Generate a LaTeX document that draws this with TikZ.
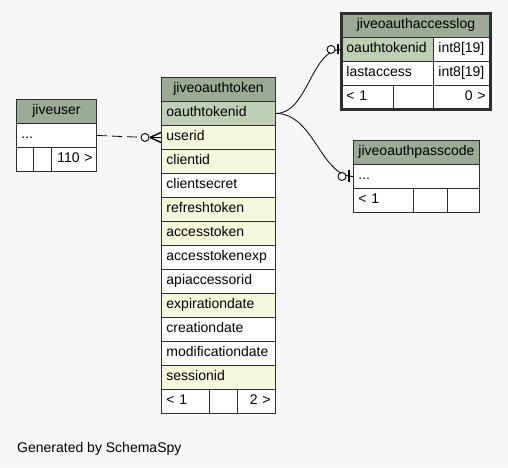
\documentclass[tikz,border=0pt]{standalone}
\usepackage{fontspec}
\setmainfont{Liberation Sans}
\usetikzlibrary{calc}

\definecolor{bggray}{HTML}{F7F7F7}
\definecolor{headgreen}{HTML}{9BAB96}
\definecolor{keygreen}{HTML}{BFCFB6}
\definecolor{idxyellow}{HTML}{F5F8DC}
\definecolor{linegray}{HTML}{2E2E2E}

\newcommand{\tabfont}{\fontsize{14}{16}\selectfont}

\tikzset{
    cell/.style={draw=linegray, line width=0.9pt, anchor=north west,
        inner xsep=5pt, inner ysep=0pt, minimum height=24pt,
        text height=10pt, text depth=3pt, font=\tabfont, align=left},
    head/.style={cell, fill=headgreen, align=center},
    keyrow/.style={cell, fill=keygreen},
    idxrow/.style={cell, fill=idxyellow},
    plainrow/.style={cell, fill=white},
    footcell/.style={cell, fill=white},
    relline/.style={black, line width=0.8pt},
    endring/.style={draw=black, fill=white, line width=0.9pt}
}

\begin{document}
\begin{tikzpicture}[x=1pt,y=-1pt]

        \fill[bggray] (0,0) rectangle (508,467);
        \useasboundingbox (0,0) rectangle (508,467);

        %jiveuser
        \node[head, text width=70pt] (ju-head) at (16,99) {jiveuser};
        \node[plainrow, text width=70pt] (ju-dots) at (16,123) {...};
        \node[footcell, text width=7pt] (ju-f1) at (16,147) {};
        \node[footcell, text width=8pt] (ju-f2) at (33,147) {};
        \node[footcell, text width=37pt, inner xsep=4pt, align=right] (ju-f3) at (51,147) {110~>};

        %jiveoauthtoken
        \node[head, text width=104pt] (tok-head) at (161,77) {jiveoauthtoken};
        \node[keyrow, text width=104pt] (tok-pk) at (161,101) {oauthtokenid};
        \node[idxrow, text width=104pt] (tok-userid) at (161,125) {userid};
        \node[idxrow, text width=104pt] (tok-clientid) at (161,149) {clientid};
        \node[plainrow, text width=104pt] (tok-secret) at (161,173) {clientsecret};
        \node[idxrow, text width=104pt] (tok-refresh) at (161,197) {refreshtoken};
        \node[idxrow, text width=104pt] (tok-access) at (161,221) {accesstoken};
        \node[plainrow, text width=104pt] (tok-exp) at (161,245) {accesstokenexp};
        \node[plainrow, text width=104pt] (tok-api) at (161,269) {apiaccessorid};
        \node[idxrow, text width=104pt] (tok-expdate) at (161,293) {expirationdate};
        \node[plainrow, text width=104pt] (tok-created) at (161,317) {creationdate};
        \node[plainrow, text width=104pt] (tok-modified) at (161,341) {modificationdate};
        \node[idxrow, text width=104pt] (tok-session) at (161,365) {sessionid};
        \node[footcell, text width=38pt] (tok-f1) at (161,389) {<~1};
        \node[footcell, text width=18pt] (tok-f2) at (209,389) {};
        \node[footcell, text width=28pt, align=right] (tok-f3) at (237,389) {2~>};

        %jiveoauthaccesslog
        \node[head, text width=139pt] (log-head) at (341,13) {jiveoauthaccesslog};
        \node[keyrow, text width=82pt] (log-pk) at (341,37) {oauthtokenid};
        \node[plainrow, text width=47pt] (log-pktype) at (433,37) {int8[19]};
        \node[plainrow, text width=82pt] (log-last) at (341,61) {lastaccess};
        \node[plainrow, text width=47pt] (log-lasttype) at (433,61) {int8[19]};
        \node[footcell, text width=42pt] (log-f1) at (341,85) {<~1};
        \node[footcell, text width=30pt] (log-f2) at (393,85) {};
        \node[footcell, text width=47pt, align=right] (log-f3) at (433,85) {0~>};
        \draw[linegray, line width=3pt] (log-head.north west) rectangle (log-f3.south east);

        %jiveoauthpasscode
        \node[head, text width=116pt] (pass-head) at (353,140) {jiveoauthpasscode};
        \node[plainrow, text width=116pt] (pass-dots) at (353,164) {...};
        \node[footcell, text width=50pt] (pass-f1) at (353,188) {<~1};
        \node[footcell, text width=24pt] (pass-f2) at (413,188) {};
        \node[footcell, text width=22pt] (pass-f3) at (447,188) {};

        %jiveuser -> userid
        \coordinate (ring-user) at ($(tok-userid.west)+(-16,0)$);
        \draw[relline, dash pattern=on 10pt off 5pt] (ju-dots.east) -- (ring-user);
        \draw[relline, line width=1.4pt] ($(tok-userid.west)+(-11,0)$) -- ($(tok-userid.west)+(0,-5)$);
        \draw[relline, line width=1.4pt] ($(tok-userid.west)+(-11,0)$) -- (tok-userid.west);
        \draw[relline, line width=1.4pt] ($(tok-userid.west)+(-11,0)$) -- ($(tok-userid.west)+(0,5)$);
        \draw[endring] (ring-user) circle (4pt);

        %oauthtokenid -> jiveoauthaccesslog
        \draw[relline] (tok-pk.east) .. controls +(32,0) and +(-30,0) .. (log-pk.west);
        \draw[relline, line width=2pt] ($(log-pk.west)+(-3,-5)$) -- ($(log-pk.west)+(-3,5)$);
        \draw[endring] ($(log-pk.west)+(-10,0)$) circle (4pt);

        %oauthtokenid -> jiveoauthpasscode
        \draw[relline] (tok-pk.east) .. controls +(38,0) and +(-32,0) .. (pass-dots.west);
        \draw[relline, line width=2pt] ($(pass-dots.west)+(-4,-6)$) -- ($(pass-dots.west)+(-4,6)$);
        \draw[endring] ($(pass-dots.west)+(-11,0)$) circle (4pt);

        \node[anchor=base west, inner sep=0pt, font=\tabfont] (credit) at (17,452) {Generated by SchemaSpy};

\end{tikzpicture}
\end{document}
